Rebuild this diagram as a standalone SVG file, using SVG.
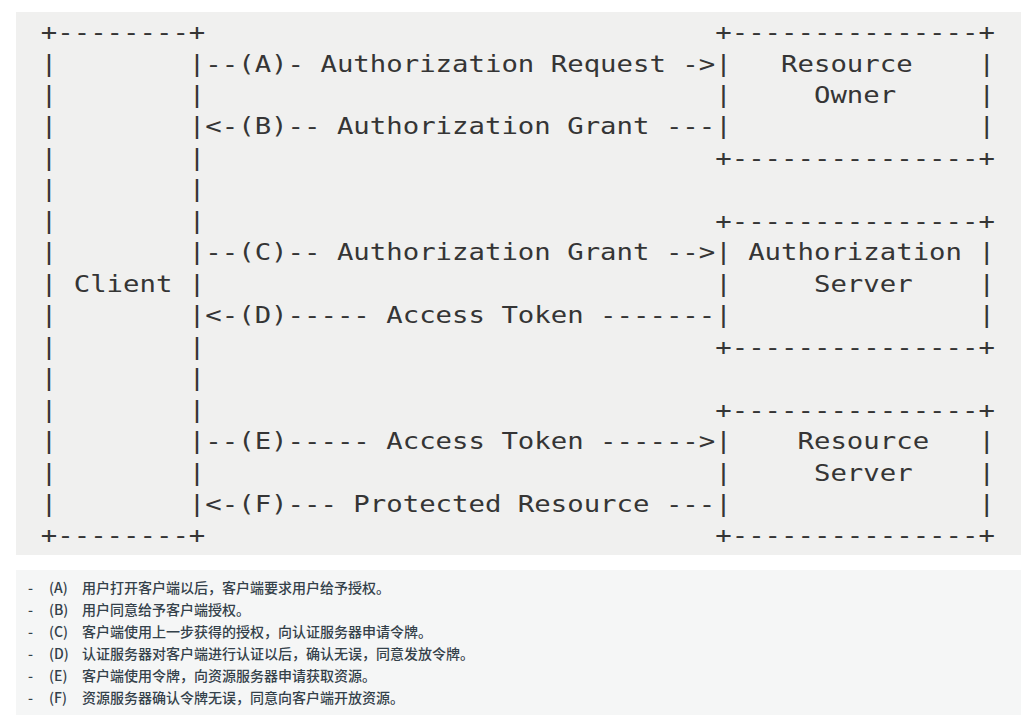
<svg xmlns="http://www.w3.org/2000/svg" width="1024" height="722" viewBox="0 0 1024 722">
<style>
.m { font-family: "DejaVu Sans Mono", monospace; font-size: 23px; fill: #353535; white-space: pre; }
.cn { font-family: "Noto Sans CJK SC", sans-serif; font-size: 14px; font-weight: 500; fill: #34414a; }
</style>
<rect x="0" y="0" width="1024" height="722" fill="#ffffff"/>
<rect x="16" y="12" width="1005" height="543" fill="#f0f0ef"/>
<rect x="16" y="570" width="1005" height="145" fill="#f5f6f6"/>

<g id="client" xml:space="preserve">
<text class="m" x="40.8" y="40.1" textLength="164.5" lengthAdjust="spacingAndGlyphs">+--------+</text>
<text class="m" x="40.8" y="71.56" textLength="164.5" lengthAdjust="spacingAndGlyphs">|        |</text>
<text class="m" x="40.8" y="103.02" textLength="164.5" lengthAdjust="spacingAndGlyphs">|        |</text>
<text class="m" x="40.8" y="134.48" textLength="164.5" lengthAdjust="spacingAndGlyphs">|        |</text>
<text class="m" x="40.8" y="165.94" textLength="164.5" lengthAdjust="spacingAndGlyphs">|        |</text>
<text class="m" x="40.8" y="197.4" textLength="164.5" lengthAdjust="spacingAndGlyphs">|        |</text>
<text class="m" x="40.8" y="228.86" textLength="164.5" lengthAdjust="spacingAndGlyphs">|        |</text>
<text class="m" x="40.8" y="260.32" textLength="164.5" lengthAdjust="spacingAndGlyphs">|        |</text>
<text class="m" x="40.8" y="291.78" textLength="164.5" lengthAdjust="spacingAndGlyphs">| Client |</text>
<text class="m" x="40.8" y="323.24" textLength="164.5" lengthAdjust="spacingAndGlyphs">|        |</text>
<text class="m" x="40.8" y="354.7" textLength="164.5" lengthAdjust="spacingAndGlyphs">|        |</text>
<text class="m" x="40.8" y="386.16" textLength="164.5" lengthAdjust="spacingAndGlyphs">|        |</text>
<text class="m" x="40.8" y="417.62" textLength="164.5" lengthAdjust="spacingAndGlyphs">|        |</text>
<text class="m" x="40.8" y="449.08" textLength="164.5" lengthAdjust="spacingAndGlyphs">|        |</text>
<text class="m" x="40.8" y="480.54" textLength="164.5" lengthAdjust="spacingAndGlyphs">|        |</text>
<text class="m" x="40.8" y="512" textLength="164.5" lengthAdjust="spacingAndGlyphs">|        |</text>
<text class="m" x="40.8" y="543.46" textLength="164.5" lengthAdjust="spacingAndGlyphs">+--------+</text>
</g>

<g id="resource-owner" xml:space="preserve">
<text class="m" x="715.25" y="40.1" textLength="279.65" lengthAdjust="spacingAndGlyphs">+---------------+</text>
<text class="m" x="715.25" y="71.56" textLength="279.65" lengthAdjust="spacingAndGlyphs">|   Resource    |</text>
<text class="m" x="715.25" y="103.02" textLength="279.65" lengthAdjust="spacingAndGlyphs">|     Owner     |</text>
<text class="m" x="715.25" y="134.48" textLength="279.65" lengthAdjust="spacingAndGlyphs">|               |</text>
<text class="m" x="715.25" y="165.94" textLength="279.65" lengthAdjust="spacingAndGlyphs">+---------------+</text>
</g>

<g id="authorization-server" xml:space="preserve">
<text class="m" x="715.25" y="228.86" textLength="279.65" lengthAdjust="spacingAndGlyphs">+---------------+</text>
<text class="m" x="715.25" y="260.32" textLength="279.65" lengthAdjust="spacingAndGlyphs">| Authorization |</text>
<text class="m" x="715.25" y="291.78" textLength="279.65" lengthAdjust="spacingAndGlyphs">|     Server    |</text>
<text class="m" x="715.25" y="323.24" textLength="279.65" lengthAdjust="spacingAndGlyphs">|               |</text>
<text class="m" x="715.25" y="354.7" textLength="279.65" lengthAdjust="spacingAndGlyphs">+---------------+</text>
</g>

<g id="resource-server" xml:space="preserve">
<text class="m" x="715.25" y="417.62" textLength="279.65" lengthAdjust="spacingAndGlyphs">+---------------+</text>
<text class="m" x="715.25" y="449.08" textLength="279.65" lengthAdjust="spacingAndGlyphs">|    Resource   |</text>
<text class="m" x="715.25" y="480.54" textLength="279.65" lengthAdjust="spacingAndGlyphs">|     Server    |</text>
<text class="m" x="715.25" y="512" textLength="279.65" lengthAdjust="spacingAndGlyphs">|               |</text>
<text class="m" x="715.25" y="543.46" textLength="279.65" lengthAdjust="spacingAndGlyphs">+---------------+</text>
</g>

<g id="connectors" xml:space="preserve">
<text class="m" x="205.3" y="71.56" textLength="509.95" lengthAdjust="spacingAndGlyphs">--(A)- Authorization Request -&gt;</text>
<text class="m" x="205.3" y="134.48" textLength="509.95" lengthAdjust="spacingAndGlyphs">&lt;-(B)-- Authorization Grant ---</text>
<text class="m" x="205.3" y="260.32" textLength="509.95" lengthAdjust="spacingAndGlyphs">--(C)-- Authorization Grant --&gt;</text>
<text class="m" x="205.3" y="323.24" textLength="509.95" lengthAdjust="spacingAndGlyphs">&lt;-(D)----- Access Token -------</text>
<text class="m" x="205.3" y="449.08" textLength="509.95" lengthAdjust="spacingAndGlyphs">--(E)----- Access Token ------&gt;</text>
<text class="m" x="205.3" y="512" textLength="509.95" lengthAdjust="spacingAndGlyphs">&lt;-(F)--- Protected Resource ---</text>
</g>

<g id="notes">
<text class="cn" y="593"><tspan x="28">-</tspan><tspan x="49">(A)</tspan><tspan x="82">用户打开客户端以后，客户端要求用户给予授权。</tspan></text>
<text class="cn" y="615"><tspan x="28">-</tspan><tspan x="49">(B)</tspan><tspan x="82">用户同意给予客户端授权。</tspan></text>
<text class="cn" y="637"><tspan x="28">-</tspan><tspan x="49">(C)</tspan><tspan x="82">客户端使用上一步获得的授权，向认证服务器申请令牌。</tspan></text>
<text class="cn" y="659"><tspan x="28">-</tspan><tspan x="49">(D)</tspan><tspan x="82">认证服务器对客户端进行认证以后，确认无误，同意发放令牌。</tspan></text>
<text class="cn" y="681"><tspan x="28">-</tspan><tspan x="49">(E)</tspan><tspan x="82">客户端使用令牌，向资源服务器申请获取资源。</tspan></text>
<text class="cn" y="703"><tspan x="28">-</tspan><tspan x="49">(F)</tspan><tspan x="82">资源服务器确认令牌无误，同意向客户端开放资源。</tspan></text>
</g>
</svg>
